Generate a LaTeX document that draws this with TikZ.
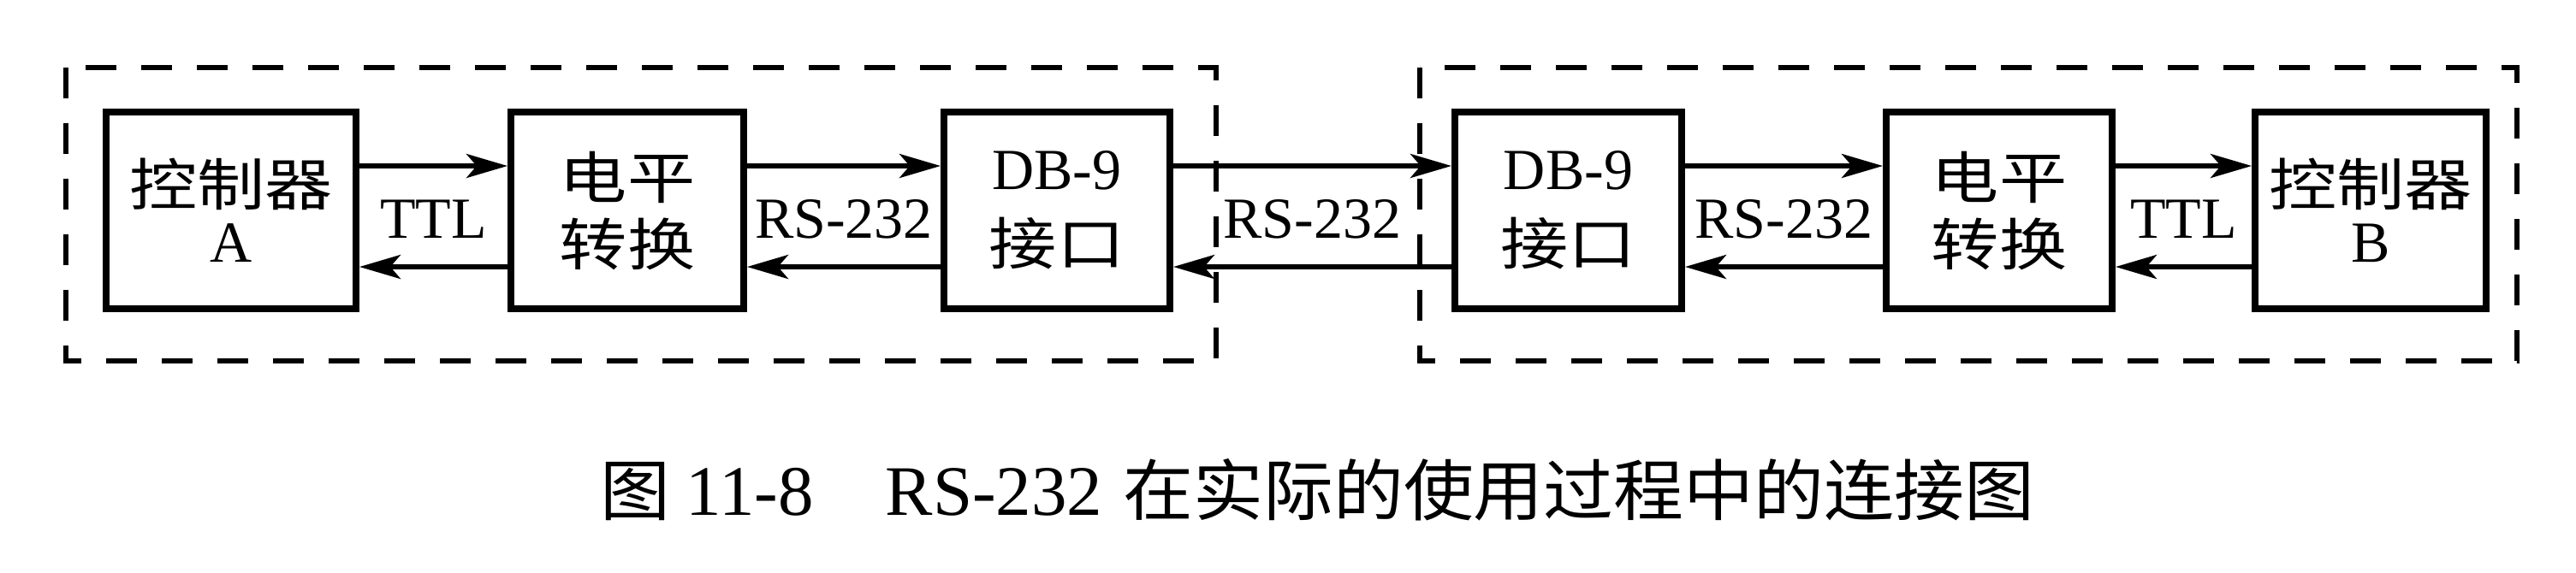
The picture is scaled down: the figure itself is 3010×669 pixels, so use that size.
\documentclass[tikz,border=0pt]{standalone}
\usepackage{fontspec}
\setmainfont{Liberation Serif}
\newfontfamily\cjk[FakeStretch=1.2]{Noto Sans CJK SC}
\newfontfamily\cjkcap[FakeStretch=1.05]{Noto Sans CJK SC}
\usetikzlibrary{arrows.meta,calc}
\newcommand\zh[1]{{\cjk\fontsize{16.5pt}{16.5pt}\selectfont #1}}
\newcommand\zhcap[1]{{\cjkcap\fontsize{19.5pt}{24pt}\selectfont #1}}
\begin{document}
\begin{tikzpicture}[x=0.25pt,y=-0.25pt,
  box/.style={draw, line width=2pt, minimum height=57.5pt, inner sep=0pt, align=center},
  ctrlbox/.style={box, font=\fontsize{17pt}{16.5pt}\selectfont},
  lvlbox/.style={box, font=\fontsize{17pt}{19.5pt}\selectfont},
  dbbox/.style={box, font=\fontsize{17pt}{22pt}\selectfont},
  arr/.style={line width=1.4pt, -{Stealth[length=12pt,width=7pt,inset=3pt]}},
  lbl/.style={inner sep=0pt, font=\fontsize{17pt}{20pt}\selectfont, yshift=-2.5pt},
  cont/.style={line width=1.5pt, dash pattern=on 9pt off 7.25pt}]
\useasboundingbox (0,0) rectangle (3010,669);
% containers
\draw[cont] (77,79) rectangle (1421,422);
\draw[cont] (1659,79) rectangle (2941,422);
% boxes
\node[ctrlbox, minimum width=73pt] (ctrlA) at (270,246) {\zh{控制器}\\A};
\node[lvlbox, minimum width=68pt] (lvlA) at (733,246) {\zh{电平}\\\zh{转换}};
\node[dbbox, minimum width=66pt] (dbA) at (1235,246) {DB-9\\\zh{接口}};
\node[dbbox, minimum width=66.25pt] (dbB) at (1832.5,246) {DB-9\\\zh{接口}};
\node[lvlbox, minimum width=66pt] (lvlB) at (2336,246) {\zh{电平}\\\zh{转换}};
\node[ctrlbox, minimum width=67.5pt] (ctrlB) at (2770,246) {\zh{控制器}\\B};
% arrow levels
\coordinate (top) at (0,194);
\coordinate (bot) at (0,312);
\draw[arr] (ctrlA.east |- top) -- (lvlA.west |- top);
\draw[arr] (lvlA.west |- bot) -- (ctrlA.east |- bot);
\draw[arr] (lvlA.east |- top) -- (dbA.west |- top);
\draw[arr] (dbA.west |- bot) -- (lvlA.east |- bot);
\draw[arr] (dbA.east |- top) -- (dbB.west |- top);
\draw[arr] (dbB.west |- bot) -- (dbA.east |- bot);
\draw[arr] (dbB.east |- top) -- (lvlB.west |- top);
\draw[arr] (lvlB.west |- bot) -- (dbB.east |- bot);
\draw[arr] (lvlB.east |- top) -- (ctrlB.west |- top);
\draw[arr] (ctrlB.west |- bot) -- (lvlB.east |- bot);
% labels
\path (ctrlA.east) -- (lvlA.west) node[lbl, midway] (l1) {TTL};
\path (lvlA.east) -- (dbA.west) node[lbl, midway] (l2) {RS-232};
\path (dbA.east) -- (dbB.west) node[lbl, midway] (l3) {RS-232};
\path (dbB.east) -- (lvlB.west) node[lbl, midway] (l4) {RS-232};
\path (lvlB.east) -- (ctrlB.west) node[lbl, midway] (l5) {TTL};
% caption
\node[anchor=base west, inner sep=0pt, font=\fontsize{20.75pt}{24pt}\selectfont] (cap) at (701,602)
  {\zhcap{图}\hspace{4.5pt}11-8\hspace{21pt}RS-232\hspace{6pt}\zhcap{在实际的使用过程中的连接图}};
\end{tikzpicture}
\end{document}
